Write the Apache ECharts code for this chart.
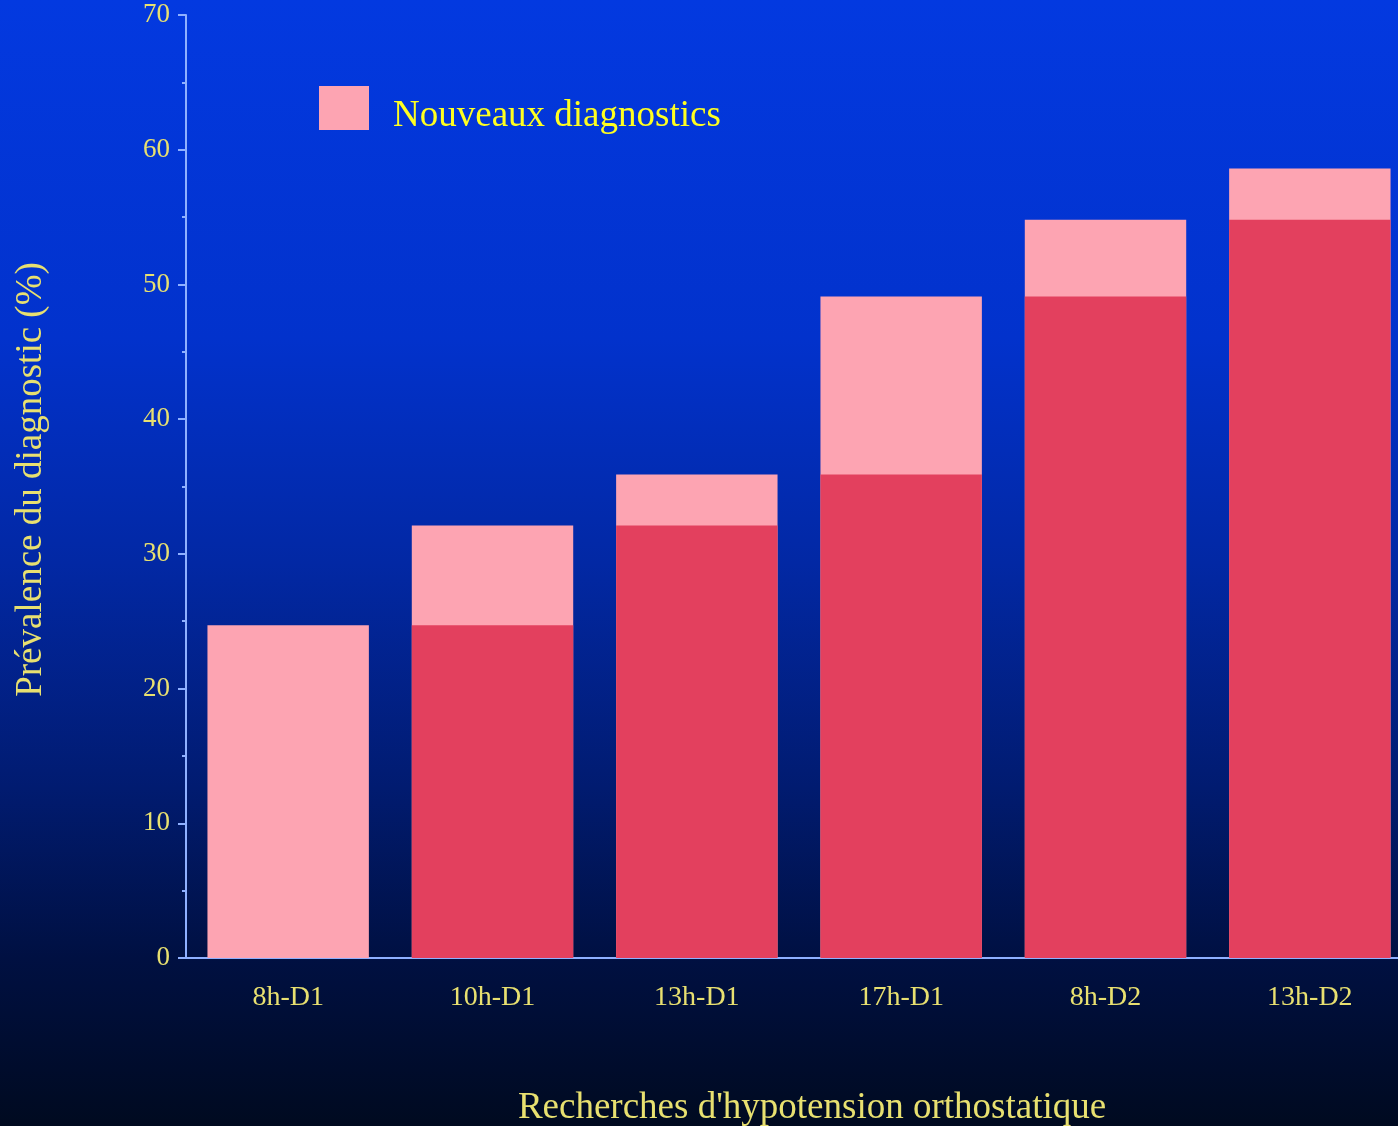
<!DOCTYPE html>
<html>
<head>
<meta charset="utf-8">
<script src="https://cdn.jsdelivr.net/npm/echarts@6/dist/echarts.min.js"></script>
<style>
  html, body { margin: 0; padding: 0; }
  #chart { width: 1398px; height: 1126px; }
</style>
</head>
<body>
<div id="chart"></div>
<script>
// Moments of orthostatic hypotension screening
const categories = ['8h-D1', '10h-D1', '13h-D1', '17h-D1', '8h-D2', '13h-D2'];
// Prevalence already found at earlier screenings (%)
const previousCases = [0, 24.7, 32.1, 35.9, 49.1, 54.8];
// Additional prevalence brought by each new screening (%)
const newCases = [24.7, 7.4, 3.8, 13.2, 5.7, 3.8];
const yTicks = { min: 0, max: 70, interval: 10 };

// Cumulative prevalence after each screening: the pink bar is drawn full
// height behind the red one, so the pink part shows only the new cases.
const cumulative = previousCases.map((v, i) => +(v + newCases[i]).toFixed(1));

const axisColor = '#8fb0ff';
const labelColor = '#e8e070';
const previousColor = '#e3405e';
const newColor = '#fda4b2';
const serif = '"Liberation Serif", "DejaVu Serif", serif';

// Legend swatch: a 50x44 square at the top of a 50x60 box,
// so the label sits a little below the square's centre.
const swatchIcon = 'path://M0,0L50,0L50,44L0,44Z M0,60L0.01,60L0,59.99Z';

const chart = echarts.init(document.getElementById('chart'));
chart.setOption({
  backgroundColor: {
    type: 'linear', x: 0, y: 0, x2: 0, y2: 1,
    colorStops: [
      { offset: 0, color: '#0339e0' },
      { offset: 0.3, color: '#0232cc' },
      { offset: 0.5, color: '#0228a4' },
      { offset: 0.7, color: '#011b70' },
      { offset: 0.85, color: '#001042' },
      { offset: 1, color: '#000a20' }
    ]
  },
  animation: false,
  grid: {
    left: 186, right: -14, top: 15, bottom: 168,
    containLabel: false,
    outerBoundsMode: 'none'
  },
  legend: {
    data: ['Nouveaux diagnostics'],
    left: 314, top: 81,
    icon: swatchIcon,
    itemWidth: 50, itemHeight: 60, itemGap: 20,
    itemStyle: { borderWidth: 0 },
    textStyle: { color: '#ffff20', fontSize: 37, fontFamily: serif, padding: [0, 0, 0, 19] }
  },
  xAxis: {
    type: 'category',
    data: categories,
    name: "Recherches d'hypotension orthostatique",
    nameLocation: 'middle',
    nameGap: 132,
    nameTextStyle: { color: labelColor, fontSize: 37, fontFamily: serif, padding: [0, 0, 0, 26] },
    axisLine: { lineStyle: { color: axisColor, width: 2 } },
    axisTick: { show: false },
    axisLabel: { color: labelColor, fontSize: 28, fontFamily: serif, margin: 26 }
  },
  yAxis: {
    type: 'value',
    min: yTicks.min, max: yTicks.max, interval: yTicks.interval,
    name: 'Prévalence du diagnostic (%)',
    nameLocation: 'middle',
    nameGap: 136,
    nameTextStyle: { color: labelColor, fontSize: 37, fontFamily: serif, padding: [0, 0, 0, 14] },
    axisLine: { show: true, lineStyle: { color: axisColor, width: 2 } },
    axisTick: { show: true, length: 8, lineStyle: { color: axisColor, width: 2 } },
    minorTick: { show: true, splitNumber: 2, length: 4, lineStyle: { color: axisColor, width: 2 } },
    splitLine: { show: false },
    axisLabel: { color: labelColor, fontSize: 27, fontFamily: serif, margin: 16 }
  },
  series: [
    {
      name: 'Nouveaux diagnostics',
      type: 'bar',
      barCategoryGap: '21%',
      barGap: '-100%',
      itemStyle: { color: newColor },
      data: cumulative
    },
    {
      name: 'Diagnostics antérieurs',
      type: 'bar',
      barCategoryGap: '21%',
      barGap: '-100%',
      itemStyle: { color: previousColor },
      data: previousCases
    }
  ]
});
</script>
</body>
</html>
